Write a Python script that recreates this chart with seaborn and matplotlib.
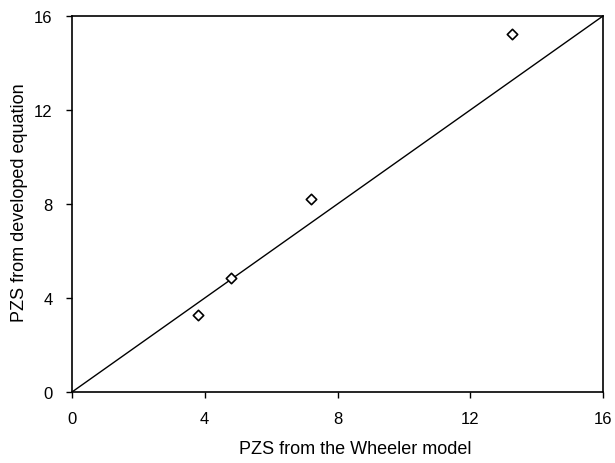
import matplotlib
matplotlib.use("Agg")
import matplotlib.pyplot as plt
import seaborn as sns
import pandas as pd

wheeler = [3.8, 4.78, 7.2, 13.25]
developed = [3.28, 4.83, 8.22, 15.22]
line_x = [0, 16]
line_y = [0, 16]
ticks = [0, 4, 8, 12, 16]

sns.set_theme(style="white")
plt.rcParams['font.family'] = ['Liberation Sans', 'DejaVu Sans']

fig = plt.figure(figsize=(6.15, 4.64), dpi=100)
ax = fig.add_axes([72/615, 1-393/464, (603-72)/615, (393-17)/464])

pts = pd.DataFrame({"x": wheeler, "y": developed})
ln = pd.DataFrame({"x": line_x, "y": line_y})
sns.lineplot(data=ln, x="x", y="y", color="black", linewidth=1.0, ax=ax)
sns.scatterplot(data=pts, x="x", y="y", marker="D", s=28, facecolor="white",
                edgecolor="black", linewidth=1.2, ax=ax, zorder=3)

ax.set_xlim(0, 16)
ax.set_ylim(0, 16)
ax.set_xticks(ticks)
ax.set_yticks(ticks)
ax.set_xticklabels([str(t) for t in ticks])
ax.set_yticklabels([str(t) for t in ticks])
ax.tick_params(direction="out", length=4.5, width=1, color="black", labelsize=12,
               labelcolor="black", bottom=True, left=True)
ax.tick_params(axis="x", pad=9.5)
ax.tick_params(axis="y", pad=9.5)
for s in ax.spines.values():
    s.set_color("black")
    s.set_linewidth(1.2)
ax.set_xlabel("PZS from the Wheeler model", fontsize=13, color="black")
ax.set_ylabel("PZS from developed equation", fontsize=13, color="black")
ax.xaxis.set_label_coords(0.534, -0.128)
ax.yaxis.set_label_coords(-0.083, 0.507)

fig.savefig("out.png", dpi=100)
